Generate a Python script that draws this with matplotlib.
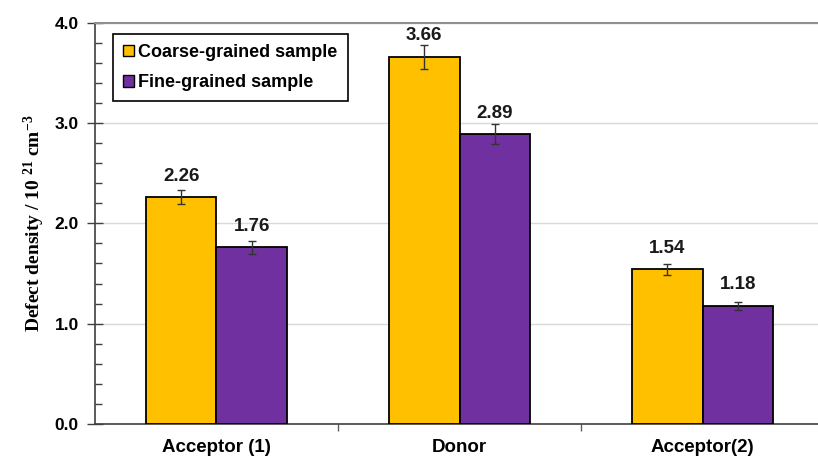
import matplotlib
matplotlib.use('Agg')
from matplotlib import pyplot as plt
from matplotlib.ticker import MultipleLocator, FixedLocator
import numpy as np

# Densidade de defeitos por tipo de amostra
categorias = ['Acceptor (1)', 'Donor', 'Acceptor(2)']
grosso = [2.26, 3.66, 1.54]
grosso_err = [0.07, 0.12, 0.055]
fino = [1.76, 2.89, 1.18]
fino_err = [0.063, 0.10, 0.04]
series = ['Coarse-grained sample', 'Fine-grained sample']

plt.rcParams['font.family'] = ['Liberation Sans', 'DejaVu Sans']
plt.rcParams['font.weight'] = 'bold'
# expoentes do rótulo do eixo y em serifada negrito
plt.rcParams['mathtext.fontset'] = 'custom'
plt.rcParams['mathtext.rm'] = 'Liberation Serif:bold'
plt.rcParams['mathtext.default'] = 'rm'

fig = plt.figure(figsize=(8.18, 4.61), dpi=100)
ax = fig.add_axes([0.1161, 0.0803, 0.8839, 0.8705])

x = np.arange(len(categorias))
w = 0.29

ax.bar(x - w / 2, grosso, w, color='#FFC000', edgecolor='black', linewidth=1.3,
       yerr=grosso_err, ecolor='#333333', error_kw=dict(elinewidth=1, capsize=3, capthick=1),
       label=series[0], zorder=3)
ax.bar(x + w / 2, fino, w, color='#7030A0', edgecolor='black', linewidth=1.3,
       yerr=fino_err, ecolor='#333333', error_kw=dict(elinewidth=1, capsize=3, capthick=1),
       label=series[1], zorder=3)

# Rótulos de valor acima das barras
for xs, vals in [(x - w / 2, grosso), (x + w / 2, fino)]:
    for xi, v in zip(xs, vals):
        ax.annotate(f'{v:.2f}', (xi, v), xytext=(0, 15), textcoords='offset points',
                    ha='center', va='center', fontsize=13.5, fontweight='bold', color='#1a1a1a')

ax.set_xlim(-0.5, 2.475)
ax.set_ylim(0, 4.0)

ax.yaxis.set_major_locator(MultipleLocator(1.0))
ax.yaxis.set_minor_locator(MultipleLocator(0.2))
ax.set_yticklabels([f'{t:.1f}' for t in ax.get_yticks()])
ax.tick_params(axis='y', which='major', direction='inout', length=11, width=1,
               color='#404040', labelsize=12.5, pad=6)
ax.tick_params(axis='y', which='minor', direction='in', length=5, width=1, color='#404040')

ax.set_xticks(x)
ax.set_xticklabels(categorias, fontsize=13.5, fontweight='bold')
ax.xaxis.set_minor_locator(FixedLocator([0.5, 1.5]))
ax.tick_params(axis='x', which='major', length=0, pad=11)
ax.tick_params(axis='x', which='minor', direction='out', length=5, width=1, color='#606060')

ax.grid(axis='y', which='major', color='#D9D9D9', linewidth=1, zorder=0)
ax.set_axisbelow(True)

ax.spines['right'].set_visible(False)
ax.spines['top'].set_color('#909090')
ax.spines['top'].set_linewidth(1.5)
ax.spines['left'].set_color('#404040')
ax.spines['left'].set_linewidth(1.2)
ax.spines['bottom'].set_color('#404040')
ax.spines['bottom'].set_linewidth(1.2)

ax.set_ylabel('Defect density / 10 $^{21}$ cm$^{-3}$', fontfamily='Liberation Serif',
              fontweight='bold', fontsize=14)
ax.yaxis.set_label_coords(-0.066, 0.5)

leg = ax.legend(loc='upper left', bbox_to_anchor=(0.025, 0.972), borderaxespad=0,
                fontsize=13, handlelength=0.6, handleheight=0.6, handletextpad=0.25,
                labelspacing=0.75, borderpad=0.55, fancybox=False, framealpha=1,
                edgecolor='black')
leg.get_frame().set_linewidth(1.2)
for h in leg.legend_handles:
    h.set_linewidth(1)

fig.savefig('out.png', dpi=100)
